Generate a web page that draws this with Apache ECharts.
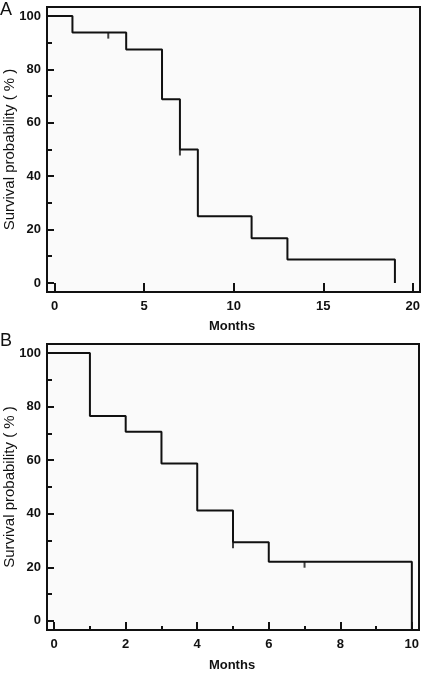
<!DOCTYPE html>
<html><head><meta charset="utf-8">
<script src="https://cdn.jsdelivr.net/npm/echarts@6/dist/echarts.min.js"></script>
<style>html,body{margin:0;padding:0;background:#fff}#c{width:425px;height:673px}</style>
</head><body><div id="c"></div>
<script>
// Panel A data
const timesA = [1, 4, 6, 7, 8, 11, 13, 19];
const survA = [93.8, 87.5, 68.8, 50, 25, 16.7, 8.8, 0];
const censorTimesA = [3, 7];
const censorSurvA = [93.8, 50];
const xTicksA = [0, 5, 10, 15, 20];
// Panel B data
const timesB = [1, 2, 3, 4, 5, 6, 10];
const survB = [76.5, 70.6, 58.8, 41.2, 29.4, 22.1, -3.4];
const censorTimesB = [5, 7];
const censorSurvB = [29.4, 22.1];
const xLabelsB = [0, 2, 4, 6, 8, 10];
const xMinorB = [1, 3, 5, 7, 9];
const yLabels = [0, 20, 40, 60, 80, 100];
const yMinor = [10, 30, 50, 70, 90];

const yMin = -3.4, yMax = 103.4;
const xMinA = -0.42, xMaxA = 20.4;
const xMinB = -0.2, xMaxB = 10.2;

const txtFont = "'Liberation Sans',Arial,sans-serif";

function curve(xStart, times, surv) {
  const d = [[xStart, 100]];
  times.forEach((t, i) => d.push([t, surv[i]]));
  return d;
}
function pairs(a, b) { return a.map((t, i) => [t, b[i]]); }

const axisLine = {show: true, onZero: false, lineStyle: {color: '#111', width: 2}};
const lbl = {color: '#111', fontFamily: txtFont, fontSize: 13, fontWeight: 'bold'};

const grids = [
  {left: 47, top: 7, width: 373, height: 285},
  {left: 47, top: 344, width: 372, height: 286}
];
const option = {
  animation: false,
  grid: grids.map(g => Object.assign({show: true, backgroundColor: '#fafafa', borderColor: '#111', borderWidth: 2}, g)),
  xAxis: [
    {gridIndex: 0, type: 'value', min: xMinA, max: xMaxA, axisLine,
     splitLine: {show: false},
     axisTick: {show: true, inside: true, length: 9, customValues: xTicksA, lineStyle: {color: '#111', width: 2}},
     axisLabel: Object.assign({customValues: xTicksA, margin: 8}, lbl)},
    {gridIndex: 1, type: 'value', min: xMinB, max: xMaxB, axisLine,
     splitLine: {show: false},
     axisTick: {show: true, inside: true, length: 8, customValues: xLabelsB, lineStyle: {color: '#111', width: 2}},
     axisLabel: Object.assign({customValues: xLabelsB, margin: 8}, lbl)},
    {gridIndex: 1, type: 'value', min: xMinB, max: xMaxB, position: 'bottom', axisLine: {show: false, onZero: false},
     splitLine: {show: false},
     axisTick: {show: true, inside: true, length: 4, customValues: xMinorB, lineStyle: {color: '#111', width: 2}},
     axisLabel: {show: false}}
  ],
  yAxis: [0, 1].flatMap(gi => [
    {gridIndex: gi, type: 'value', min: yMin, max: yMax, axisLine, splitLine: {show: false},
     axisTick: {show: true, inside: true, length: 7, customValues: yLabels, lineStyle: {color: '#111', width: 2}},
     axisLabel: Object.assign({customValues: yLabels, margin: 6}, lbl)},
    {gridIndex: gi, type: 'value', min: yMin, max: yMax, position: 'left', axisLine: {show: false, onZero: false}, splitLine: {show: false},
     axisTick: {show: true, inside: true, length: 5, customValues: yMinor, lineStyle: {color: '#111', width: 2}},
     axisLabel: {show: false}}
  ]),
  series: [
    {type: 'line', xAxisIndex: 0, yAxisIndex: 0, step: 'end', symbol: 'none',
     lineStyle: {color: '#111', width: 2}, data: curve(xMinA, timesA, survA)},
    {type: 'scatter', xAxisIndex: 0, yAxisIndex: 0, symbol: 'rect', symbolSize: [2, 6], symbolOffset: [0, 3],
     itemStyle: {color: '#111'}, data: pairs(censorTimesA, censorSurvA)},
    {type: 'line', xAxisIndex: 1, yAxisIndex: 2, step: 'end', symbol: 'none',
     lineStyle: {color: '#111', width: 2}, data: curve(xMinB, timesB, survB)},
    {type: 'scatter', xAxisIndex: 1, yAxisIndex: 2, symbol: 'rect', symbolSize: [2, 6], symbolOffset: [0, 3],
     itemStyle: {color: '#111'}, data: pairs(censorTimesB, censorSurvB)}
  ],
  graphic: [
    {type: 'text', left: 0, top: 1, style: {text: 'A', font: "18px " + txtFont, fill: '#111'}},
    {type: 'text', left: 0, top: 332, style: {text: 'B', font: "18px " + txtFont, fill: '#111'}},
    {type: 'text', x: 10, y: 149.5, rotation: Math.PI / 2,
     style: {text: 'Survival probability ( % )', font: "15px " + txtFont, fill: '#111', align: 'center', verticalAlign: 'middle'}},
    {type: 'text', x: 10, y: 487, rotation: Math.PI / 2,
     style: {text: 'Survival probability ( % )', font: "15px " + txtFont, fill: '#111', align: 'center', verticalAlign: 'middle'}},
    {type: 'text', x: 232, y: 326,
     style: {text: 'Months', font: "bold 13px " + txtFont, fill: '#111', align: 'center', verticalAlign: 'middle'}},
    {type: 'text', x: 232, y: 665,
     style: {text: 'Months', font: "bold 13px " + txtFont, fill: '#111', align: 'center', verticalAlign: 'middle'}}
  ]
};
echarts.init(document.getElementById('c'), null, {renderer: 'canvas'}).setOption(option);
</script>
</body></html>
